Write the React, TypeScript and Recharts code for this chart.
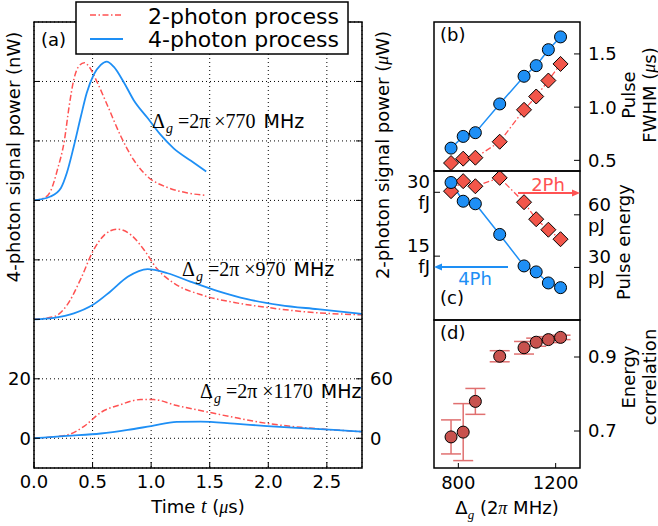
import {
  ComposedChart,
  Line,
  Scatter,
  ErrorBar,
  XAxis,
  YAxis,
  CartesianGrid,
} from "recharts";

const FONT = "'DejaVu Sans', sans-serif";
const SERIF = "'Liberation Serif', 'DejaVu Serif', serif";
const BLUE = "#1e8ff5";
const RED = "#ff5252";
const DIAMOND = "#f2564a";
const BROWN = "#c8524e";
const ERRC = "#e07070";
const DASHDOT = "6 2.5 1.5 2.5";

// (a) time traces, baseline removed. 4-photon in nW, 2-photon in µW
const t770b = [0, 0.14, 0.23, 0.28, 0.34, 0.4, 0.45, 0.51, 0.57, 0.62, 0.68, 0.77, 0.85, 0.97, 1.08, 1.19, 1.34, 1.47];
const p770b = [0, 1.3, 4.2, 9.2, 18.2, 28.2, 36.1, 42.3, 45.6, 46.7, 45.0, 39.5, 33.8, 27.7, 22.1, 17.6, 13.3, 9.7];
const t770r = [0, 0.085, 0.14, 0.2, 0.26, 0.3, 0.34, 0.38, 0.43, 0.47, 0.54, 0.63, 0.74, 0.85, 0.97, 1.14, 1.31, 1.47];
const p770r = [0, 2.4, 9, 31, 61, 95, 122, 135, 139, 135, 119, 95, 65, 41, 24, 13, 7.5, 5];

const t970b = [0, 0.17, 0.34, 0.5, 0.65, 0.8, 0.97, 1.14, 1.34, 1.57, 1.82, 2.1, 2.42, 2.8];
const p970b = [0, 0.5, 2.0, 4.8, 9.3, 14.3, 16.9, 15.5, 12.6, 9.5, 6.8, 4.8, 3.4, 1.8];
const t970r = [0, 0.17, 0.28, 0.4, 0.5, 0.6, 0.71, 0.83, 0.94, 1.05, 1.2, 1.42, 1.71, 1.99, 2.28, 2.8];
const p970r = [0, 2.7, 14, 41, 68, 85, 91, 85, 70, 51, 36, 25, 17, 12, 8, 4.5];

const t1170b = [0, 0.28, 0.57, 0.8, 1.0, 1.22, 1.42, 1.71, 1.99, 2.28, 2.56, 2.8];
const p1170b = [0, 0.8, 1.6, 2.8, 4.1, 5.5, 5.6, 4.9, 4.1, 3.4, 2.8, 2.2];
const t1170r = [0, 0.28, 0.43, 0.57, 0.74, 0.91, 1.02, 1.22, 1.42, 1.71, 1.99, 2.28, 2.56, 2.8];
const p1170r = [0, 3.3, 12.3, 26, 34, 39, 39, 33, 28, 21, 15, 11, 8.4, 6.6];

// vertical offsets of the stacked traces
const offsetNW = [80, 40, 0];
const offsetUW = [240, 120, 0];

// (b)-(d) vs detuning
const detuning = [770, 820, 870, 970, 1070, 1120, 1170, 1220];
const fwhm4 = [0.615, 0.725, 0.76, 1.03, 1.29, 1.39, 1.54, 1.66];
const fwhm2 = [0.475, 0.516, 0.525, 0.675, 0.975, 1.1, 1.25, 1.406];
const energy4 = [32.3, 27.9, 27.3, 20.1, 12.7, 11.3, 8.7, 7.6]; // fJ
const energy2 = [73.5, 79.2, 76.3, 81.1, 67.2, 57.5, 51.5, 46.1]; // pJ
const corr = [0.684, 0.697, 0.78, 0.902, 0.925, 0.94, 0.947, 0.953];
const corrErr = [0.046, 0.077, 0.035, 0.015, 0.017, 0.011, 0.008, 0.006];

const trace = (t: number[], v: number[], off: number) =>
  t.map((x, i) => ({ t: x, v: v[i] + off }));

const traces = [
  { b: trace(t770b, p770b, offsetNW[0]), r: trace(t770r, p770r, offsetUW[0]) },
  { b: trace(t970b, p970b, offsetNW[1]), r: trace(t970r, p970r, offsetUW[1]) },
  { b: trace(t1170b, p1170b, offsetNW[2]), r: trace(t1170r, p1170r, offsetUW[2]) },
];

const rows = detuning.map((d, i) => ({
  d,
  fwhm4: fwhm4[i],
  fwhm2: fwhm2[i],
  e4: energy4[i],
  e2: energy2[i],
  corr: corr[i],
  err: corrErr[i],
}));

const tickStyle = { fill: "#000", fontSize: 18, fontFamily: FONT };

const BlueDot = (p: any) => (
  <circle key={p.index} cx={p.cx} cy={p.cy} r={6} fill={BLUE} stroke="#000" strokeWidth={1} />
);
const RedDiamond = (p: any) => (
  <polygon
    key={p.index}
    points={`${p.cx},${p.cy - 7.5} ${p.cx + 7.5},${p.cy} ${p.cx},${p.cy + 7.5} ${p.cx - 7.5},${p.cy}`}
    fill={DIAMOND}
    stroke="#000"
    strokeWidth={1}
  />
);
const BrownDot = (p: any) => (
  <circle cx={p.cx} cy={p.cy} r={6} fill={BROWN} stroke="#000" strokeWidth={1} />
);

function TwoLineTick(props: any) {
  const { x, y, payload, textAnchor, unit } = props;
  const v = payload.value;
  return (
    <text x={x} y={y} textAnchor={textAnchor} fontSize={18} fontFamily={FONT} fill="#000">
      {v === 0 ? (
        <tspan x={x} dy={3}>0</tspan>
      ) : (
        <>
          <tspan x={x} dy={-4}>{v}</tspan>
          <tspan x={x} dy={21}>{unit}</tspan>
        </>
      )}
    </text>
  );
}

function Delta({ x, y, val }: { x: number; y: number; val: string }) {
  return (
    <text x={x} y={y} fontSize={20} fontFamily={SERIF} fill="#000">
      <tspan>Δ</tspan>
      <tspan fontStyle="italic" fontSize={14} dy={5} dx={1}>g</tspan>
      <tspan dy={-5} dx={5}>=2π ×{val}</tspan>
      <tspan fontFamily={FONT} fontSize={19} dx={8}>MHz</tspan>
    </text>
  );
}

const xDet = { type: "number" as const, dataKey: "d", domain: [700, 1300], ticks: [800, 1200] };

export default function App() {
  return (
    <div style={{ position: "absolute", left: 0, top: 0, width: 658, height: 526, background: "#fff" }}>
      {/* (a) */}
      <div style={{ position: "absolute", left: 0, top: 0 }}>
        <ComposedChart width={400} height={526} margin={{ top: 22, right: 0, bottom: 0, left: 0 }}>
          <CartesianGrid yAxisId="l" stroke="#000" strokeDasharray="1 3" />
          <XAxis
            type="number"
            dataKey="t"
            domain={[0, 2.8]}
            ticks={[0, 0.5, 1, 1.5, 2, 2.5]}
            tickFormatter={(v) => v.toFixed(1)}
            height={58}
            axisLine={false}
            tickSize={-6}
            tickMargin={13}
            tickLine={{ stroke: "#000" }}
            tick={tickStyle}
            allowDataOverflow
          />
          <YAxis
            yAxisId="l"
            domain={[-10, 140]}
            ticks={[0, 20, 40, 60, 80, 100, 120]}
            tickFormatter={(v) => (v === 0 || v === 20 ? String(v) : "")}
            width={34}
            axisLine={false}
            tickSize={-6}
            tickMargin={9}
            tickLine={{ stroke: "#000" }}
            tick={tickStyle}
            allowDataOverflow
          />
          <YAxis
            yAxisId="r"
            orientation="right"
            domain={[-30, 420]}
            ticks={[0, 60, 120, 180, 240, 300, 360]}
            tickFormatter={(v) => (v === 0 || v === 60 ? String(v) : "")}
            width={38}
            axisLine={false}
            tickSize={-6}
            tickMargin={14}
            tickLine={{ stroke: "#000" }}
            tick={tickStyle}
            allowDataOverflow
          />
          {traces.map((tr, i) => (
            <Line
              key={"r" + i}
              yAxisId="r"
              data={tr.r}
              dataKey="v"
              type="monotone"
              stroke={RED}
              strokeWidth={1.5}
              strokeDasharray={DASHDOT}
              dot={false}
              isAnimationActive={false}
            />
          ))}
          {traces.map((tr, i) => (
            <Line
              key={"b" + i}
              yAxisId="l"
              data={tr.b}
              dataKey="v"
              type="monotone"
              stroke={BLUE}
              strokeWidth={1.8}
              dot={false}
              isAnimationActive={false}
            />
          ))}
        </ComposedChart>
      </div>

      {/* (b) */}
      <div style={{ position: "absolute", left: 380, top: 0 }}>
        <ComposedChart width={278} height={171} data={rows} margin={{ top: 22, right: 0, bottom: 0, left: 54 }}>
          <XAxis {...xDet} height={0} axisLine={false} tickSize={-5} tickFormatter={() => ""} tickLine={{ stroke: "#000" }} />
          <YAxis
            yAxisId="r"
            orientation="right"
            domain={[0.4, 1.8]}
            ticks={[0.5, 1.0, 1.5]}
            tickFormatter={(v) => v.toFixed(1)}
            width={78}
            axisLine={false}
            tickSize={-6}
            tickMargin={14}
            tickLine={{ stroke: "#000" }}
            tick={tickStyle}
          />
          <Line yAxisId="r" dataKey="fwhm4" type="linear" stroke={BLUE} strokeWidth={1.5} dot={BlueDot} isAnimationActive={false} />
          <Line yAxisId="r" dataKey="fwhm2" type="linear" stroke={RED} strokeWidth={1.3} strokeDasharray={DASHDOT} dot={RedDiamond} isAnimationActive={false} />
        </ComposedChart>
      </div>

      {/* (c) */}
      <div style={{ position: "absolute", left: 380, top: 171 }}>
        <ComposedChart width={278} height={149} data={rows} margin={{ top: 0, right: 0, bottom: 0, left: 0 }}>
          <XAxis {...xDet} height={0} axisLine={false} tickSize={-5} tickFormatter={() => ""} tickLine={{ stroke: "#000" }} />
          <YAxis
            yAxisId="l"
            domain={[0, 35]}
            ticks={[0, 15, 30]}
            width={54}
            axisLine={false}
            tickSize={-6}
            tickMargin={10}
            tickLine={{ stroke: "#000" }}
            tick={(p: any) => <TwoLineTick {...p} unit="fJ" />}
          />
          <YAxis
            yAxisId="r"
            orientation="right"
            domain={[0, 85]}
            ticks={[0, 30, 60]}
            width={78}
            axisLine={false}
            tickSize={-6}
            tickMargin={14}
            tickLine={{ stroke: "#000" }}
            tick={(p: any) => <TwoLineTick {...p} unit="pJ" />}
          />
          <Line yAxisId="r" dataKey="e2" type="linear" stroke={RED} strokeWidth={1.3} strokeDasharray={DASHDOT} dot={RedDiamond} isAnimationActive={false} />
          <Line yAxisId="l" dataKey="e4" type="linear" stroke={BLUE} strokeWidth={1.5} dot={BlueDot} isAnimationActive={false} />
        </ComposedChart>
      </div>

      {/* (d) */}
      <div style={{ position: "absolute", left: 380, top: 320 }}>
        <ComposedChart width={278} height={206} data={rows} margin={{ top: 0, right: 0, bottom: 0, left: 54 }}>
          <XAxis
            {...xDet}
            height={58}
            axisLine={false}
            tickSize={-5}
            tickMargin={13}
            tickLine={{ stroke: "#000" }}
            tick={tickStyle}
          />
          <YAxis
            yAxisId="r"
            orientation="right"
            domain={[0.6, 1.0]}
            ticks={[0.7, 0.9]}
            tickFormatter={(v) => v.toFixed(1)}
            width={78}
            axisLine={false}
            tickSize={-6}
            tickMargin={14}
            tickLine={{ stroke: "#000" }}
            tick={tickStyle}
          />
          <Scatter yAxisId="r" dataKey="corr" shape={BrownDot} isAnimationActive={false}>
            <ErrorBar dataKey="err" direction="y" width={10} stroke={ERRC} strokeWidth={1.5} />
          </Scatter>
        </ComposedChart>
      </div>

      {/* frames, labels, legend, annotations */}
      <svg width={658} height={526} style={{ position: "absolute", left: 0, top: 0, pointerEvents: "none" }}>
        <g fill="none" stroke="#000" strokeWidth={1.5}>
          <rect x={34} y={22} width={328} height={446} />
          <rect x={434} y={22} width={146} height={149} />
          <rect x={434} y={171} width={146} height={149} />
          <rect x={434} y={320} width={146} height={148} />
        </g>

        {/* legend */}
        <rect x={76} y={2} width={272} height={52} fill="#fff" stroke="#000" strokeWidth={1.5} />
        <line x1={90} y1={15} x2={123} y2={15} stroke={RED} strokeWidth={1.5} strokeDasharray={DASHDOT} />
        <line x1={90} y1={39} x2={123} y2={39} stroke={BLUE} strokeWidth={1.8} />
        <text x={148} y={24} fontSize={22} fontFamily={FONT}>2-photon process</text>
        <text x={148} y={47} fontSize={22} fontFamily={FONT}>4-photon process</text>

        <g fontSize={18} fontFamily={FONT} fill="#000">
          <text x={41} y={46}>(a)</text>
          <text x={440} y={41}>(b)</text>
          <text x={440} y={304}>(c)</text>
          <text x={440} y={339}>(d)</text>

          <text x={13} y={157} textAnchor="middle" dominantBaseline="central" transform="rotate(-90 13 157)">
            4-photon signal power (nW)
          </text>
          <text x={382} y={155} textAnchor="middle" dominantBaseline="central" transform="rotate(-90 382 155)">
            2-photon signal power (<tspan fontFamily={SERIF} fontStyle="italic">μ</tspan>W)
          </text>
          <text x={198} y={513} textAnchor="middle">
            Time <tspan fontFamily={SERIF} fontStyle="italic" fontSize={20}>t</tspan> (<tspan fontFamily={SERIF} fontStyle="italic">μ</tspan>s)
          </text>
          <text x={507} y={514} textAnchor="middle">
            Δ<tspan fontFamily={SERIF} fontStyle="italic" fontSize={13} dy={5}>g</tspan>
            <tspan dy={-5}> (2</tspan><tspan fontFamily={SERIF} fontStyle="italic">π</tspan> MHz)
          </text>

          <text x={628} y={95} textAnchor="middle" dominantBaseline="central" transform="rotate(-90 628 95)">Pulse</text>
          <text x={649} y={95} textAnchor="middle" dominantBaseline="central" transform="rotate(-90 649 95)">
            FWHM (<tspan fontFamily={SERIF} fontStyle="italic">μ</tspan>s)
          </text>
          <text x={623} y={242} textAnchor="middle" dominantBaseline="central" transform="rotate(-90 623 242)">Pulse energy</text>
          <text x={628} y={377} textAnchor="middle" dominantBaseline="central" transform="rotate(-90 628 377)">Energy</text>
          <text x={649} y={377} textAnchor="middle" dominantBaseline="central" transform="rotate(-90 649 377)">correlation</text>

          <text x={548} y={191} textAnchor="middle" fill={RED}>2Ph</text>
          <text x={475} y={285} textAnchor="middle" fill={BLUE}>4Ph</text>
        </g>

        {/* arrows in (c) */}
        <line x1={518} y1={193} x2={574} y2={193} stroke={RED} strokeWidth={2} />
        <polygon points="580,193 572,189.5 572,196.5" fill={RED} />
        <line x1={508} y1={267} x2={440} y2={267} stroke={BLUE} strokeWidth={2} />
        <polygon points="434,267 442,263.5 442,270.5" fill={BLUE} />

        <Delta x={152} y={128} val="770" />
        <Delta x={182} y={276} val="970" />
        <Delta x={200} y={398} val="1170" />
      </svg>
    </div>
  );
}
